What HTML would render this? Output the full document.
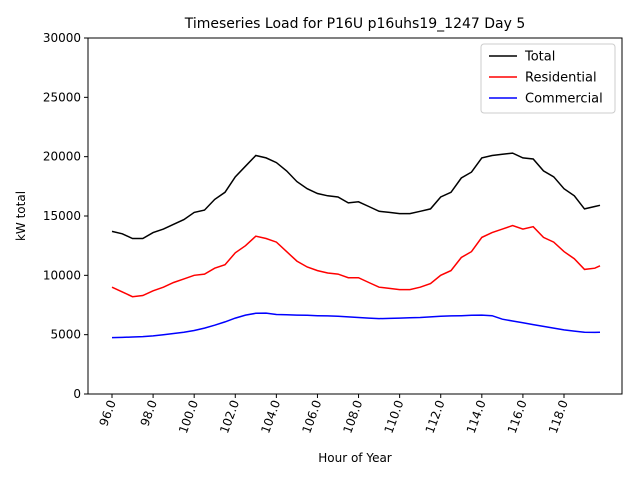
<!DOCTYPE html>
<html><head><meta charset="utf-8"><style>
body{margin:0;background:#fff}
svg{display:block;font-family:"DejaVu Sans","Liberation Sans",sans-serif}
</style></head><body>
<svg id="c" width="640" height="480"></svg>
<script>
const hours=[96,96.5,97,97.5,98,98.5,99,99.5,100,100.5,101,101.5,102,102.5,103,103.5,104,104.5,105,105.5,106,106.5,107,107.5,108,108.5,109,109.5,110,110.5,111,111.5,112,112.5,113,113.5,114,114.5,115,115.5,116,116.5,117,117.5,118,118.5,119,119.5,119.75];
const total=[13700,13500,13100,13100,13600,13900,14300,14700,15300,15500,16400,17000,18300,19200,20100,19900,19500,18800,17900,17300,16900,16700,16600,16100,16200,15800,15400,15300,15200,15200,15400,15600,16600,17000,18200,18700,19900,20100,20200,20300,19900,19800,18800,18300,17300,16700,15600,15800,15900];
const residential=[9000,8600,8200,8300,8700,9000,9400,9700,10000,10100,10600,10900,11900,12500,13300,13100,12800,12000,11200,10700,10400,10200,10100,9800,9800,9400,9000,8900,8800,8800,9000,9300,10000,10400,11500,12000,13200,13600,13900,14200,13900,14100,13200,12800,12000,11400,10500,10600,10800];
const commercial=[4750,4770,4800,4840,4900,4990,5100,5200,5350,5550,5800,6080,6400,6650,6800,6820,6700,6670,6650,6630,6600,6580,6550,6500,6450,6400,6350,6370,6400,6420,6450,6500,6550,6580,6600,6630,6650,6600,6300,6150,6000,5850,5700,5550,5400,5300,5200,5190,5200];
const xTicks=[96,98,100,102,104,106,108,110,112,114,116,118];
const yTicks=[0,5000,10000,15000,20000,25000,30000];
const L=88,R=622,T=38,B=394;
const xs=h=>112+(h-96)*(452/22);
const ys=v=>B-(v/30000)*(B-T);
const svg=document.getElementById('c');
const NS='http://www.w3.org/2000/svg';
function mk(tag,a,txt){const e=document.createElementNS(NS,tag);for(const k in a)e.setAttribute(k,a[k]);if(txt!==undefined)e.textContent=txt;svg.appendChild(e);return e;}
let e;
e=mk('rect',{x:L,y:T,width:R-L,height:B-T,fill:'none',stroke:'#000','stroke-width':1});


yTicks.forEach(v=>{
 e=mk('line',{x1:L-4,x2:L,y1:ys(v),y2:ys(v),stroke:'#000'});
 
 
 e=mk('text',{x:L-7,y:ys(v)+4,'text-anchor':'end','font-size':12},String(v));
 
 
});
xTicks.forEach(h=>{
 const x=xs(h);
 e=mk('line',{x1:x,x2:x,y1:B,y2:B+4,stroke:'#000'});
 
 
 e=mk('text',{x:x+4,y:B+8,'text-anchor':'end','font-size':12,transform:`rotate(-70 ${x+4} ${B+8})`},h.toFixed(1));
 
 
});
function series(vals,color,name){
 const p=hours.map((h,i)=>xs(h).toFixed(1)+','+ys(vals[i]).toFixed(1)).join(' ');
 e=mk('polyline',{points:p,fill:'none',stroke:color,'stroke-width':1.5});
 
 
}
series(total,'#000','total-line');
series(residential,'#f00','residential-line');
series(commercial,'#00f','commercial-line');
e=mk('text',{x:355,y:28,'text-anchor':'middle','font-size':14},'Timeseries Load for P16U p16uhs19_1247  Day 5');


e=mk('text',{x:355,y:462,'text-anchor':'middle','font-size':12},'Hour of Year');


e=mk('text',{x:25,y:216,'text-anchor':'middle','font-size':12,transform:'rotate(-90 25 216)'},'kW total');


e=mk('rect',{x:481,y:44,width:134,height:69,rx:3,fill:'#fff','fill-opacity':0.8,stroke:'#ccc'});


[['Total','#000'],['Residential','#f00'],['Commercial','#00f']].forEach((d,i)=>{
 const y=56+i*21;
 e=mk('line',{x1:489,x2:517,y1:y,y2:y,stroke:d[1],'stroke-width':1.5});
 
 
 e=mk('text',{x:525,y:y+4.5,'font-size':13},d[0]);
 
 
});
</script>
</body></html>
